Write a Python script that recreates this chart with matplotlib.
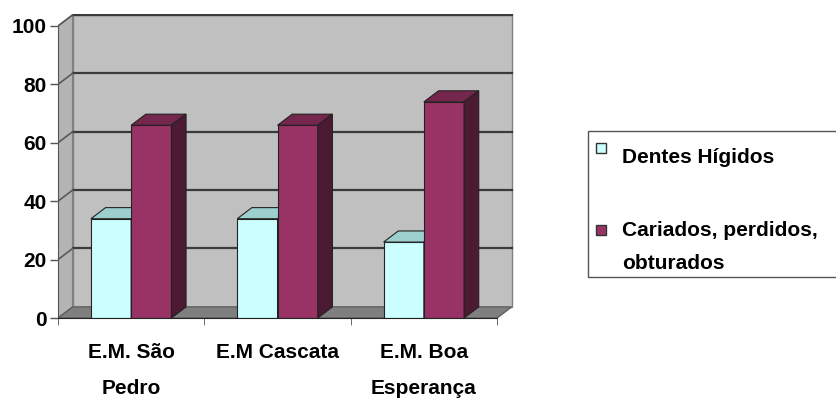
import numpy as np
import matplotlib.pyplot as plt
from matplotlib.patches import Polygon, Rectangle

# dados do gráfico
escolas = ["E.M. São\nPedro", "E.M Cascata", "E.M. Boa\nEsperança"]
series = ["Dentes Hígidos", "Cariados, perdidos,\nobturados"]
higidos = [34, 34, 26]
cariados = [66, 66, 74]

cores_frente = ["#CCFFFF", "#993366"]
cores_topo = ["#9ECFCF", "#74264D"]
cores_lado = ["#8FBFBF", "#4D1A33"]

plt.rcParams["font.family"] = ["Liberation Sans", "DejaVu Sans"]
fs = 15

W, H = 837, 405
fig = plt.figure(figsize=(W / 100, H / 100), dpi=100)
ax = fig.add_axes([58 / W, 1 - 318 / H, (519 - 58) / W, (318 - 14.3) / H])
ax.set_xlim(0, 3.15)
ax.set_ylim(0, 104)

dx, dy = 0.1, 3.8  # profundidade do efeito 3D
n = len(escolas)

# paredes e chão
ax.add_patch(Polygon([(dx, dy), (n + dx, dy), (n + dx, 100 + dy), (dx, 100 + dy)],
                     facecolor="#C0C0C0", edgecolor="#808080", lw=1, zorder=0))
ax.add_patch(Polygon([(0, 0), (dx, dy), (dx, 100 + dy), (0, 100)],
                     facecolor="#B4B4B4", edgecolor="#808080", lw=1, zorder=0))
ax.add_patch(Polygon([(0, 0), (n, 0), (n + dx, dy), (dx, dy)],
                     facecolor="#7F7F7F", edgecolor="#606060", lw=1, zorder=0))

for g in range(20, 101, 20):
    ax.plot([dx, n + dx], [g + dy, g + dy], color="#3A3A3A", lw=1.6, zorder=1)
    ax.plot([0, dx], [g, g + dy], color="#5A5A5A", lw=1.2, zorder=1)

# barras
larg = 0.275
for i in range(n):
    for s, vals in enumerate([higidos, cariados]):
        x0 = i + 0.5 - larg + s * larg
        x1 = x0 + larg
        v = vals[i]
        ax.bar(x0, v, width=larg, align="edge", color=cores_frente[s],
               edgecolor="#222222", lw=0.8, zorder=3 + s)
        ax.add_patch(Polygon([(x0, v), (x1, v), (x1 + dx, v + dy), (x0 + dx, v + dy)],
                             facecolor=cores_topo[s], edgecolor="#222222", lw=0.8, zorder=3 + s))
        ax.add_patch(Polygon([(x1, 0), (x1 + dx, dy), (x1 + dx, v + dy), (x1, v)],
                             facecolor=cores_lado[s], edgecolor="#222222", lw=0.8, zorder=3 + s))

# eixos
for lado in ["top", "right"]:
    ax.spines[lado].set_visible(False)
ax.spines["left"].set_bounds(0, 100)
ax.spines["bottom"].set_bounds(0, n)
ax.spines["left"].set_color("#555555")
ax.spines["bottom"].set_color("#222222")
ax.spines["bottom"].set_zorder(6)
ax.set_yticks(range(0, 101, 20))
ax.tick_params(axis="y", length=6, width=1, color="#555555", pad=2, labelsize=fs)
for t in ax.get_yticklabels():
    t.set_fontweight("bold")
ax.set_xticks(np.arange(n) + 0.5)
ax.set_xticklabels(escolas, fontsize=fs, fontweight="bold", linespacing=2.1)
ax.set_xticks(np.arange(n + 1), minor=True)
ax.tick_params(axis="x", which="major", length=0, pad=18)
ax.tick_params(axis="x", which="minor", length=5, color="#555555")

# legenda
fig.patches.append(Rectangle((588 / W, 1 - 277 / H), 300 / W, 146 / H,
                             transform=fig.transFigure, facecolor="white",
                             edgecolor="#555555", lw=1))
quadrados = [143, 225]
for s, ys in enumerate(quadrados):
    fig.patches.append(Rectangle((596 / W, 1 - (ys + 10) / H), 10 / W, 10 / H,
                                 transform=fig.transFigure, facecolor=cores_frente[s],
                                 edgecolor="#333333", lw=1))
fig.text(622 / W, 1 - 157 / H, series[0], fontsize=fs, fontweight="bold",
         va="center", ha="left")
fig.text(622 / W, 1 - 247 / H, series[1], fontsize=fs, fontweight="bold",
         va="center", ha="left", linespacing=1.95)

fig.savefig("out.png", dpi=100)
